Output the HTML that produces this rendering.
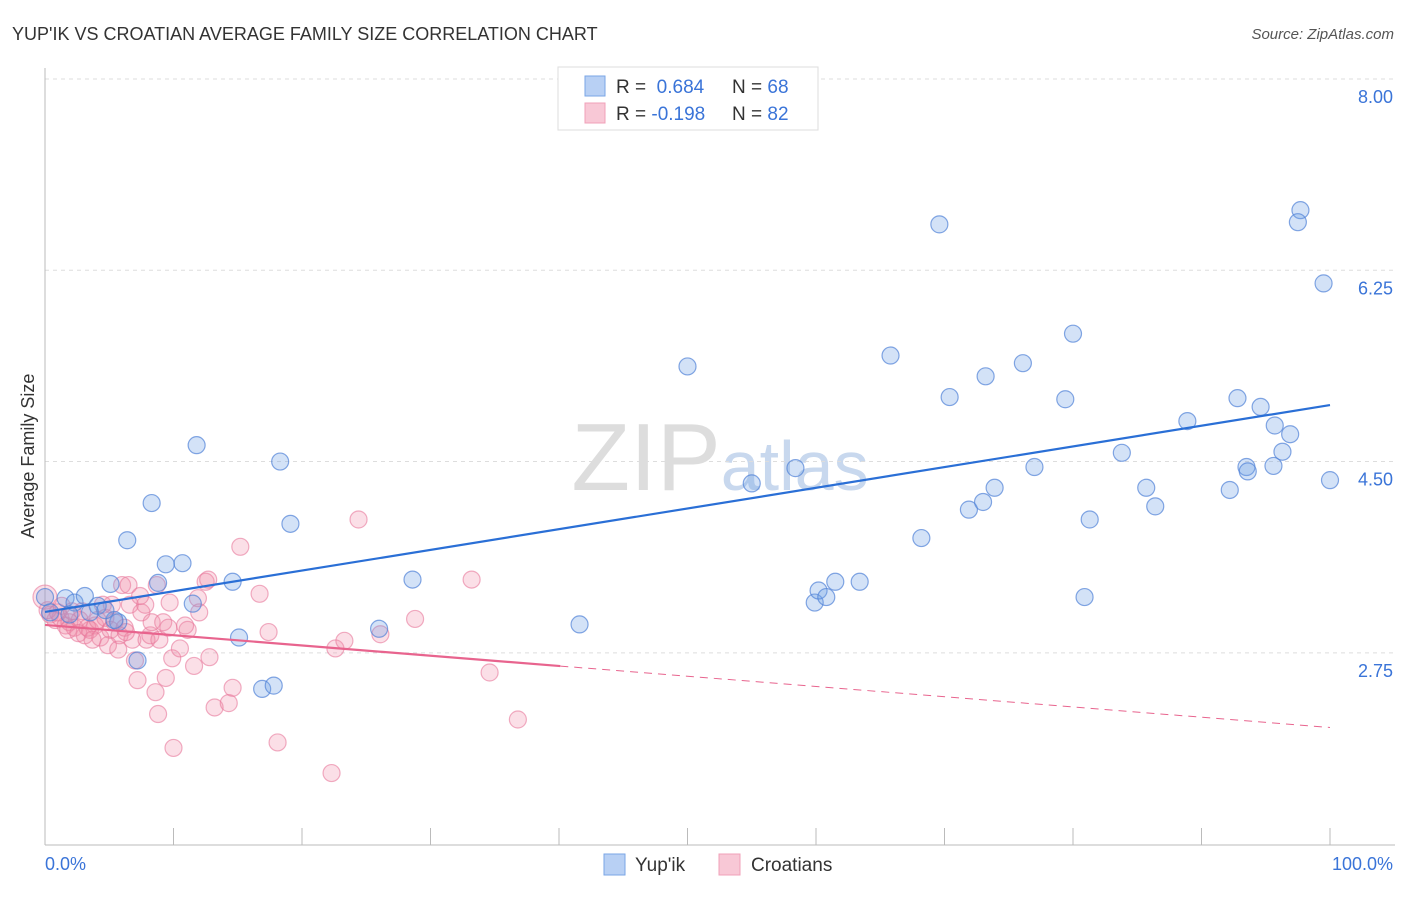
<!DOCTYPE html>
<html><head><meta charset="utf-8"><style>
body{margin:0;background:#fff;width:1406px;height:892px;overflow:hidden;font-family:"Liberation Sans",sans-serif}
svg text{font-family:"Liberation Sans",sans-serif}
</style></head><body>
<svg id="chart" width="1406" height="892">
<text x="12" y="40" font-size="18" fill="#333">YUP'IK VS CROATIAN AVERAGE FAMILY SIZE CORRELATION CHART</text>
<text x="1394" y="39" font-size="15" fill="#555" text-anchor="end" font-style="italic">Source: ZipAtlas.com</text>
<text x="720" y="490" font-size="96" fill="#ddd" text-anchor="middle" font-family="Liberation Serif">ZIP<tspan font-family="Liberation Sans" font-size="70" fill="#c8d8ee">atlas</tspan></text>
<text transform="translate(34,456) rotate(-90)" font-size="18" fill="#333" text-anchor="middle">Average Family Size</text>
<g id="grid"></g><g id="axes"></g><g id="pink"></g><g id="blue"></g><g id="lines"></g>
<g>
<rect x="558" y="67" width="260" height="63" fill="#fff" stroke="#ddd"/>
<rect x="585" y="76" width="20" height="20" fill="#b8d0f4" stroke="#7aa6e6"/>
<rect x="585" y="103" width="20" height="20" fill="#f8c8d6" stroke="#f0a0b8"/>
<text x="616" y="93" font-size="19" fill="#333">R = <tspan fill="#3a74d8">&#160;0.684</tspan><tspan x="732">N = </tspan><tspan fill="#3a74d8">68</tspan></text>
<text x="616" y="120" font-size="19" fill="#333">R = <tspan fill="#3a74d8">-0.198</tspan><tspan x="732">N = </tspan><tspan fill="#3a74d8">82</tspan></text>
</g>
<g>
<rect x="604" y="854" width="21" height="21" fill="#b8d0f4" stroke="#7aa6e6"/>
<text x="635" y="871" font-size="19" fill="#333">Yup'ik</text>
<rect x="719" y="854" width="21" height="21" fill="#f8c8d6" stroke="#f0a0b8"/>
<text x="751" y="871" font-size="19" fill="#333">Croatians</text>
</g>
<text x="45" y="870" font-size="18" fill="#3a74d8">0.0%</text>
<text x="1393" y="870" font-size="18" fill="#3a74d8" text-anchor="end">100.0%</text>
</svg>
<script>
const yTicks=[8.00,6.25,4.50,2.75];
const blueX=[0.0,1.6,2.3,3.1,4.1,5.1,5.7,6.4,7.2,8.3,8.8,9.4,10.7,11.5,11.8,14.6,15.1,16.9,17.8,18.3,19.1,26.0,28.6,41.6,50.0,55.0,58.4,59.9,60.2,60.8,61.5,63.4,65.8,68.2,69.6,70.4,71.9,73.0,73.2,73.9,76.1,77.0,79.4,80.0,80.9,81.3,83.8,85.7,86.4,88.9,92.2,92.8,93.5,93.6,94.6,95.6,95.7,96.3,96.9,97.7,97.5,99.5,100.0,0.4,1.9,3.5,5.4,4.7];
const blueY=[3.26,3.25,3.21,3.27,3.18,3.38,3.03,3.78,2.68,4.12,3.39,3.56,3.57,3.20,4.65,3.40,2.89,2.42,2.45,4.50,3.93,2.97,3.42,3.01,5.37,4.30,4.44,3.21,3.32,3.26,3.40,3.40,5.47,3.80,6.67,5.09,4.06,4.13,5.28,4.26,5.40,4.45,5.07,5.67,3.26,3.97,4.58,4.26,4.09,4.87,4.24,5.08,4.45,4.41,5.00,4.46,4.83,4.59,4.75,6.80,6.69,6.13,4.33,3.12,3.10,3.12,3.05,3.14];
const pinkX=[0.0,0.4,0.8,1.2,1.6,1.9,2.3,2.7,3.1,3.5,3.9,4.3,4.7,5.1,5.4,5.8,6.2,0.2,1.0,1.8,2.6,3.3,4.1,4.9,5.2,6.0,6.5,6.6,6.8,7.0,7.2,7.5,7.8,7.9,8.2,8.3,8.6,8.7,8.8,8.9,9.2,9.4,9.7,9.9,10.0,10.5,11.1,11.6,12.0,12.5,12.7,12.8,13.2,14.3,14.6,15.2,16.7,17.4,18.1,22.3,22.6,23.3,24.4,26.1,28.8,33.2,34.6,36.8,4.5,5.7,3.7,7.4,6.3,2.9,1.3,2.1,9.6,10.9,11.9];
const pinkY=[3.26,3.10,3.05,3.07,3.00,3.03,2.98,3.05,2.91,2.96,3.00,2.89,3.07,2.96,3.03,2.91,2.98,3.14,3.12,2.96,2.93,2.98,3.05,2.82,3.19,3.37,3.37,3.19,2.87,2.68,2.50,3.12,3.19,2.87,2.91,3.03,2.39,3.37,2.19,2.87,3.03,2.52,3.21,2.70,1.88,2.79,2.96,2.63,3.12,3.40,3.42,2.71,2.25,2.29,2.43,3.72,3.29,2.94,1.93,1.65,2.79,2.86,3.97,2.92,3.06,3.42,2.57,2.14,3.19,2.78,2.87,3.27,2.94,3.13,3.18,3.13,2.98,3.00,3.25];
const blueFit=[3.124,5.017];
const pinkFit=[3.005,2.067];
const pinkSolidEnd=40.1;
const NS='http://www.w3.org/2000/svg';
const X0=45,X1=1330;
const xs=v=>X0+(X1-X0)*v/100;
const ys=v=>79+(8-v)*109.3;
function mk(tag,attrs,parent){const e=document.createElementNS(NS,tag);for(const k in attrs)e.setAttribute(k,attrs[k]);document.getElementById(parent).appendChild(e);return e;}
yTicks.forEach(t=>{
 const g=mk('line',{x1:45,x2:1395,y1:ys(t),y2:ys(t),stroke:'#ddd','stroke-dasharray':'4,4'},'grid');
 
 
 const tx=mk('text',{x:1393,y:ys(t)+24,'font-size':18,fill:'#3a74d8','text-anchor':'end'},'grid');
 tx.textContent=t.toFixed(2);
 
 
});
const ax=mk('line',{x1:45,x2:1395,y1:845,y2:845,stroke:'#bbb'},'axes');


const ay=mk('line',{x1:45,x2:45,y1:68,y2:845,stroke:'#bbb'},'axes');


for(let i=0;i<=10;i++){const tk=mk('line',{x1:xs(i*10),x2:xs(i*10),y1:828,y2:845,stroke:'#bbb'},'axes');
 
 }
pinkX.forEach((x,i)=>{const c=mk('circle',{cx:xs(x),cy:ys(pinkY[i]),r:i===0?12:8.5,fill:'rgba(240,140,170,0.28)',stroke:'rgba(232,120,155,0.6)','stroke-width':1.2},'pink');
 
 });
blueX.forEach((x,i)=>{const c=mk('circle',{cx:xs(x),cy:ys(blueY[i]),r:8.5,fill:'rgba(110,160,230,0.3)',stroke:'rgba(80,130,215,0.7)','stroke-width':1.2},'blue');
 
 });
const bl=mk('line',{x1:xs(0),y1:ys(blueFit[0]),x2:xs(100),y2:ys(blueFit[1]),stroke:'#2a6fd6','stroke-width':2.2},'lines');


const pm=pinkFit[0]+(pinkFit[1]-pinkFit[0])*pinkSolidEnd/100;
const pl=mk('line',{x1:xs(0),y1:ys(pinkFit[0]),x2:xs(pinkSolidEnd),y2:ys(pm),stroke:'#e8648e','stroke-width':2.2},'lines');


const pd=mk('line',{x1:xs(pinkSolidEnd),y1:ys(pm),x2:xs(100),y2:ys(pinkFit[1]),stroke:'#e8648e','stroke-width':1,'stroke-dasharray':'8,6'},'lines');


</script>
</body></html>
